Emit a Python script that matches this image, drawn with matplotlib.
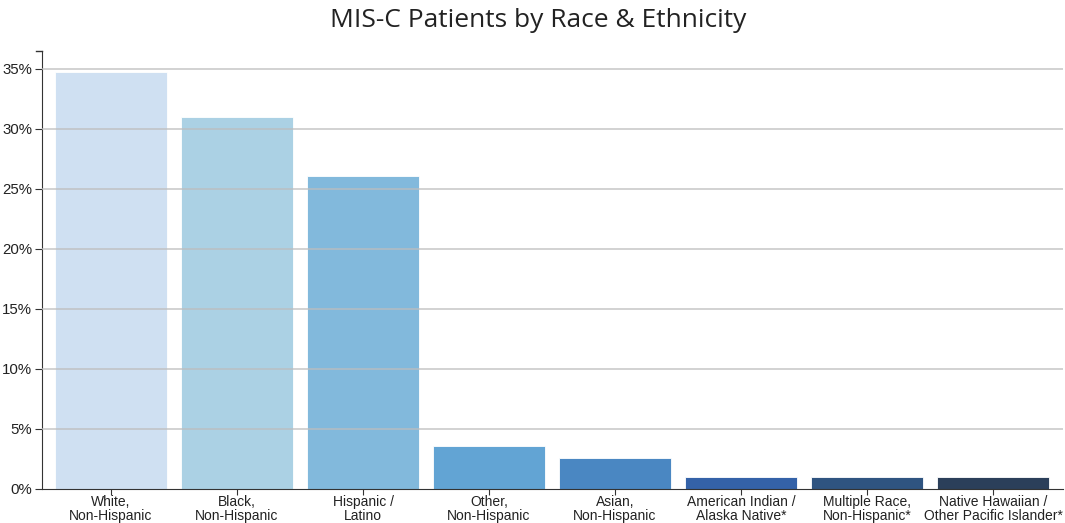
import numpy as np
import matplotlib.pyplot as plt
from matplotlib.ticker import FuncFormatter

categories = ["White,\nNon-Hispanic", "Black,\nNon-Hispanic", "Hispanic /\nLatino",
              "Other,\nNon-Hispanic", "Asian,\nNon-Hispanic", "American Indian /\nAlaska Native*",
              "Multiple Race,\nNon-Hispanic*", "Native Hawaiian /\nOther Pacific Islander*"]
percent = [34.75, 31.0, 26.1, 3.55, 2.6, 1.0, 1.0, 1.0]
colors = ["#cfe0f2", "#abd1e4", "#82b9dc", "#62a4d4", "#4a87c2", "#3462a8", "#2f5480", "#2b3f5a"]

fig = plt.figure(figsize=(10.65, 5.23), dpi=100)
ax = fig.add_axes([42/1065, 34/523, 1021/1065, 438/523])

x = np.arange(len(categories))
ax.bar(x, percent, width=0.889, color=colors, edgecolor="white", linewidth=0.6, zorder=2)

ax.set_ylim(0, 36.5)
ax.set_xlim(-0.548, len(categories) - 1 + 0.556)
ax.set_yticks(np.arange(0, 36, 5))
ax.yaxis.set_major_formatter(FuncFormatter(lambda v, p: f"{v:.0f}%"))
ax.set_xticks(x)
ax.set_xticklabels(categories, fontfamily="Liberation Sans", fontsize=10, linespacing=1.0)
for lab in ax.get_yticklabels():
    lab.set_fontfamily("Liberation Sans")
    lab.set_fontsize(10.8)
# keep the last label inside the figure like the reference
ax.get_xticklabels()[-1].set_x(len(categories) - 1 - 0.02)

for v in np.arange(5, 36, 5):
    ax.axhline(v, color="#bdbdbd", linewidth=1.2, alpha=0.8, zorder=3)

ax.spines["top"].set_visible(False)
ax.spines["right"].set_visible(False)
ax.spines["left"].set_color("#333333")
ax.spines["bottom"].set_color("#333333")
ax.tick_params(axis="y", length=5, color="#333333", pad=2, labelcolor="#222222")
ax.tick_params(axis="x", length=4, color="#333333", pad=0.5, labelcolor="#222222")
# top outer tick of the y domain
ax.plot([-0.548 - 0.05, -0.548], [36.5, 36.5], color="#333333", lw=1, clip_on=False)

fig.suptitle("MIS-C Patients by Race & Ethnicity", fontfamily="Open Sans", fontsize=19,
             color="#222222", x=0.505, y=0.985, va="top")

fig.savefig("out.png", dpi=100)
